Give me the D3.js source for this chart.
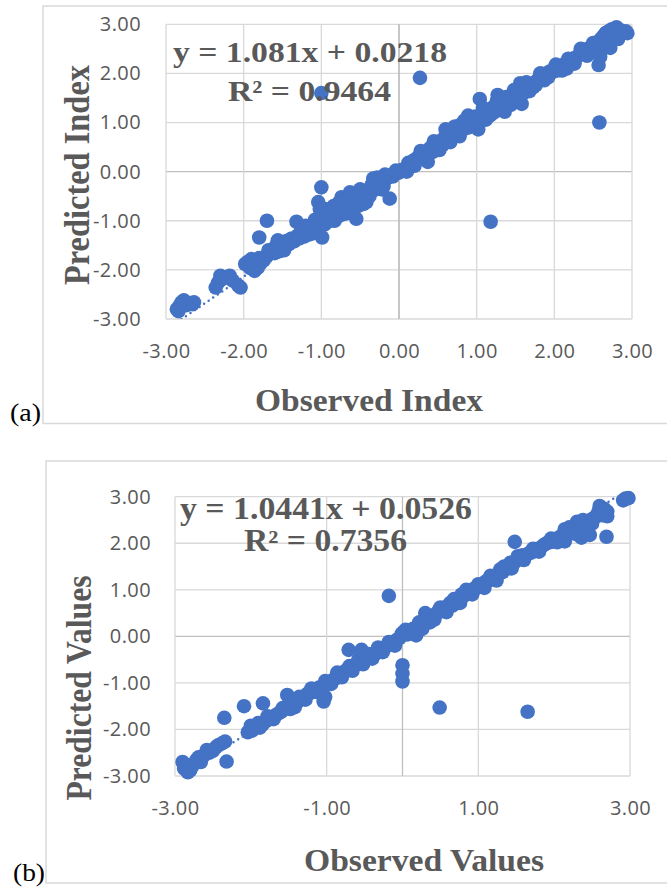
<!DOCTYPE html>
<html>
<head>
<meta charset="utf-8">
<script src="https://cdn.jsdelivr.net/npm/d3@7"></script>
<style>
  body { margin: 0; background: #fff; }
  svg { display: block; }
  .tick text { font-family: 'Open Sans', sans-serif; font-size: 20px; fill: #595959; letter-spacing: 0.4px; }
  .serif { font-family: 'Liberation Serif', 'Times New Roman', serif; }
</style>
</head>
<body>
<svg id="chart" width="667" height="888"></svg>
<script>
// (observed, predicted) pairs
const pointsA = [
  [-2.86, -2.80], [-2.83, -2.74], [-2.80, -2.66], [-2.77, -2.62], [-2.74, -2.72], [-2.70, -2.68],
  [-2.66, -2.70], [-2.64, -2.66], [-2.84, -2.84],
  [-2.36, -2.36], [-2.33, -2.26], [-2.30, -2.12], [-2.27, -2.18], [-2.22, -2.15], [-2.18, -2.12],
  [-2.14, -2.22], [-2.07, -2.32], [-2.04, -2.36],
  [-1.98, -1.88], [-1.95, -1.84], [-1.92, -1.96], [-1.88, -1.86], [-1.86, -2.02], [-1.84, -1.90],
  [-1.80, -1.76], [-1.78, -1.86], [-1.74, -1.80], [-1.70, -1.72], [-1.66, -1.64], [-1.62, -1.58],
  [-1.60, -1.66], [-1.56, -1.40], [-1.54, -1.62], [-1.50, -1.52], [-1.46, -1.42], [-1.42, -1.48],
  [-1.38, -1.36], [-1.35, -1.42], [-1.32, -1.02], [-1.30, -1.30], [-1.27, -1.24], [-1.24, -1.16],
  [-1.22, -1.32], [-1.18, -1.20], [-1.14, -1.12], [-1.12, -1.26], [-1.08, -0.98], [-1.06, -1.10],
  [-1.04, -0.62], [-1.02, -0.76], [-1.00, -1.00], [-0.99, -1.34], [-0.98, -0.86], [-0.96, -1.08],
  [-0.93, -0.88], [-0.90, -0.96], [-0.86, -0.82], [-0.83, -1.00], [-0.80, -0.78], [-0.77, -0.90],
  [-0.74, -0.52], [-0.72, -0.70], [-0.68, -0.74], [-0.66, -0.84], [-0.63, -0.42], [-0.60, -0.62],
  [-0.57, -0.56], [-0.55, -0.96], [-0.53, -0.70], [-0.50, -0.36], [-0.48, -0.58], [-0.45, -0.46],
  [-0.42, -0.62], [-0.40, -0.40], [-0.36, -0.30], [-0.33, -0.14], [-0.30, -0.36], [-0.27, -0.26],
  [-0.24, -0.18], [-0.20, -0.30], [-0.16, -0.14], [-0.12, -0.08], [-0.12, -0.55], [-0.08, -0.10],
  [-0.04, 0.02], [0.00, -0.02], [0.04, 0.04], [0.08, 0.06], [0.12, 0.18], [0.15, 0.10],
  [0.18, 0.22], [0.22, 0.26], [0.26, 0.32], [0.30, 0.28], [0.33, 0.40], [0.37, 0.20],
  [0.40, 0.48], [0.43, 0.40], [0.46, 0.52], [0.50, 0.56], [0.53, 0.62], [0.56, 0.54],
  [0.60, 0.86], [0.62, 0.66], [0.65, 0.74], [0.68, 0.70], [0.70, 0.82], [0.74, 0.78],
  [0.77, 0.90], [0.80, 0.96], [0.83, 0.86], [0.86, 1.00], [0.89, 1.14], [0.92, 1.02],
  [0.95, 1.08], [0.98, 1.12], [1.02, 0.86], [1.04, 1.48], [1.06, 1.16], [1.10, 1.22],
  [1.14, 1.18], [1.17, 1.14], [1.20, 1.30], [1.24, 1.34], [1.27, 1.56], [1.30, 1.26],
  [1.33, 1.40], [1.36, 1.22], [1.40, 1.44], [1.42, 1.50], [1.46, 1.52], [1.50, 1.58],
  [1.54, 1.64], [1.56, 1.80], [1.58, 1.38], [1.62, 1.70], [1.66, 1.74], [1.70, 1.76],
  [1.73, 1.72], [1.77, 1.84], [1.80, 1.90], [1.84, 1.94], [1.87, 1.86], [1.90, 1.98],
  [1.94, 2.04], [1.97, 2.02], [2.00, 2.10], [2.04, 2.06], [2.08, 2.14], [2.12, 2.18],
  [2.16, 2.10], [2.20, 2.26], [2.24, 2.24], [2.28, 2.32], [2.32, 2.38], [2.36, 2.44],
  [2.40, 2.42], [2.44, 2.50], [2.48, 2.54], [2.52, 2.56], [2.56, 2.62], [2.57, 2.17],
  [2.59, 2.34], [2.60, 2.70], [2.63, 2.76], [2.66, 2.82], [2.68, 2.64], [2.70, 2.86],
  [2.72, 2.52], [2.74, 2.90], [2.77, 2.80], [2.80, 2.94], [2.82, 2.70], [2.85, 2.88],
  [2.88, 2.84], [2.92, 2.86], [2.94, 2.82],
  [-1.90, -1.78], [-1.82, -1.96], [-1.68, -1.60], [-1.58, -1.50], [-1.48, -1.60], [-1.40, -1.38],
  [-1.28, -1.36], [-1.20, -1.10], [-1.16, -1.28], [-1.10, -1.14], [-0.95, -0.76], [-0.88, -1.00],
  [-0.84, -0.70], [-0.78, -0.64], [-0.70, -0.86], [-0.64, -0.60], [-0.58, -0.72], [-0.52, -0.48],
  [-0.46, -0.66], [-0.38, -0.50], [-0.34, -0.24], [-0.28, -0.12], [-0.22, -0.36], [-0.18, -0.06],
  [0.10, 0.00], [0.20, 0.12], [0.28, 0.42], [0.35, 0.30], [0.45, 0.62], [0.52, 0.44],
  [0.58, 0.68], [0.66, 0.60], [0.72, 0.92], [0.78, 0.72], [0.84, 1.04], [0.90, 0.90],
  [1.00, 1.00], [1.08, 1.30], [1.12, 1.06], [1.22, 1.20], [1.26, 1.44], [1.34, 1.28],
  [1.38, 1.52], [1.44, 1.36], [1.48, 1.66], [1.52, 1.46], [1.60, 1.60], [1.64, 1.82],
  [1.68, 1.64], [1.76, 1.76], [1.82, 2.00], [1.92, 1.92], [2.02, 2.18], [2.10, 2.06],
  [2.18, 2.30], [2.26, 2.20], [2.34, 2.50], [2.42, 2.36], [2.50, 2.62], [2.54, 2.48],
  [2.62, 2.60],
  [-1.00, 1.60], [0.27, 1.91], [1.18, -1.02], [2.58, 1.00], [-1.00, -0.32], [-1.70, -1.00],
  [-1.80, -1.34]
];

// (observed, predicted) pairs
const pointsB = [
  [-2.90, -2.70], [-2.88, -2.84], [-2.86, -2.76], [-2.83, -2.92], [-2.80, -2.88], [-2.78, -2.80],
  [-2.75, -2.74], [-2.72, -2.66], [-2.69, -2.60], [-2.66, -2.70], [-2.62, -2.56], [-2.58, -2.44],
  [-2.55, -2.50], [-2.50, -2.46], [-2.46, -2.38], [-2.43, -2.34], [-2.38, -2.30], [-2.34, -2.26],
  [-2.32, -2.69],
  [-2.04, -2.06], [-2.00, -1.92], [-1.96, -1.98], [-1.90, -1.86], [-1.85, -1.90], [-1.80, -1.82],
  [-1.76, -1.78], [-1.72, -1.74], [-1.68, -1.70], [-1.64, -1.66], [-1.60, -1.62], [-1.56, -1.56],
  [-1.52, -1.26], [-1.50, -1.50], [-1.46, -1.48], [-1.42, -1.52], [-1.38, -1.40], [-1.33, -1.34],
  [-1.30, -1.30], [-1.26, -1.24], [-1.22, -1.22], [-1.18, -1.16], [-1.14, -1.14], [-1.10, -1.10],
  [-1.06, -1.08], [-1.04, -1.40], [-1.02, -1.30], [-1.00, -1.02], [-0.96, -0.98], [-0.92, -0.94],
  [-0.88, -0.90], [-0.85, -0.84], [-0.82, -0.84], [-0.78, -0.78], [-0.75, -0.74], [-0.72, -0.70],
  [-0.68, -0.66], [-0.64, -0.62], [-0.60, -0.60], [-0.57, -0.56], [-0.53, -0.52], [-0.50, -0.50],
  [-0.46, -0.44], [-0.42, -0.42], [-0.38, -0.38], [-0.34, -0.36], [-0.30, -0.30], [-0.27, -0.28],
  [-0.24, -0.26], [-0.20, -0.20], [-0.16, -0.16], [-0.12, -0.14], [-0.08, -0.08], [-0.04, -0.04],
  [-0.01, 0.06], [0.02, 0.10], [0.06, 0.04], [0.10, 0.12], [0.14, 0.16], [0.18, 0.02],
  [0.20, 0.22], [0.24, 0.28], [0.28, 0.32], [0.30, 0.50], [0.33, 0.36], [0.36, 0.30],
  [0.40, 0.44], [0.44, 0.48], [0.48, 0.56], [0.52, 0.54], [0.56, 0.60], [0.60, 0.66],
  [0.63, 0.72], [0.66, 0.66], [0.70, 0.74], [0.74, 0.80], [0.78, 0.90], [0.82, 0.88],
  [0.86, 0.94], [0.90, 0.98], [0.94, 1.02], [0.98, 1.04], [1.02, 1.08], [1.06, 1.12],
  [1.10, 1.18], [1.14, 1.20], [1.18, 1.26], [1.22, 1.28], [1.26, 1.34], [1.29, 1.44],
  [1.32, 1.38], [1.36, 1.46], [1.40, 1.50], [1.42, 1.58], [1.46, 1.56], [1.50, 1.62],
  [1.54, 1.68], [1.58, 1.74], [1.62, 1.72], [1.66, 1.78], [1.70, 1.80], [1.74, 1.84],
  [1.78, 1.88], [1.82, 1.90], [1.86, 1.96], [1.90, 2.00], [1.94, 2.02], [1.98, 2.04],
  [2.02, 2.08], [2.06, 2.12], [2.10, 2.16], [2.14, 2.30], [2.14, 2.04], [2.18, 2.26],
  [2.22, 2.22], [2.26, 2.26], [2.30, 2.46], [2.34, 2.40], [2.36, 2.12], [2.40, 2.36],
  [2.44, 2.30], [2.47, 2.18], [2.48, 2.50], [2.52, 2.54], [2.56, 2.58], [2.60, 2.72],
  [2.60, 2.80], [2.64, 2.60], [2.66, 2.74], [2.68, 2.64], [2.70, 2.68], [2.70, 2.58],
  [2.91, 2.92], [2.94, 2.96], [2.98, 2.97],
  [-1.98, -2.02], [-1.88, -1.96], [-1.78, -1.72], [-1.70, -1.78], [-1.58, -1.54], [-1.48, -1.56],
  [-1.36, -1.30], [-1.28, -1.36], [-1.20, -1.12], [-1.12, -1.20], [-1.02, -0.96], [-0.94, -1.02],
  [-0.86, -0.78], [-0.80, -0.88], [-0.70, -0.64], [-0.66, -0.74], [-0.58, -0.50], [-0.52, -0.60],
  [-0.44, -0.38], [-0.40, -0.48], [-0.32, -0.24], [-0.26, -0.34], [-0.18, -0.12], [-0.10, -0.20],
  [0.04, 0.14], [0.12, 0.06], [0.22, 0.30], [0.26, 0.16], [0.34, 0.42], [0.42, 0.36],
  [0.50, 0.62], [0.58, 0.52], [0.68, 0.80], [0.76, 0.72], [0.84, 1.00], [0.92, 0.90],
  [1.00, 1.12], [1.08, 1.04], [1.16, 1.30], [1.24, 1.20], [1.34, 1.50], [1.44, 1.46],
  [1.52, 1.72], [1.60, 1.64], [1.72, 1.88], [1.80, 1.82], [1.96, 2.10], [2.04, 2.02],
  [2.20, 2.34], [2.28, 2.20], [2.38, 2.50], [2.50, 2.42], [2.58, 2.66],
  [-2.35, -1.75], [-2.09, -1.50], [-1.84, -1.44], [-0.18, 0.87], [0.49, -1.53], [1.65, -1.62],
  [0.00, -0.62], [0.00, -0.80], [0.00, -0.97], [-0.71, -0.29], [-0.54, -0.29], [1.48, 2.03],
  [2.69, 2.14]
];

// linear trendline coefficients [slope, intercept] and labels
const trendA = [1.081, 0.0218];
const trendB = [1.0441, 0.0526];
const labelsA = ['y = 1.081x + 0.0218', 'R² = 0.9464'];
const labelsB = ['y = 1.0441x + 0.0526', 'R² = 0.7356'];

const yTickValues = [-3, -2, -1, 0, 1, 2, 3];
const xTickValuesA = [-3, -2, -1, 0, 1, 2, 3];
const xTickValuesB = [-3, -1, 1, 3];

const svg = d3.select('#chart');
svg.append('rect').attr('width', 667).attr('height', 888).attr('fill', '#fff');

const BLUE = '#4472C4';
const GRID = '#d9d9d9';
const AXIS0 = '#bfbfbf';
const TEXT = '#595959';

function drawPanel(id, points, trend, labels, xTicks, lay) {
  const g = svg.append('g');
  const x = d3.scaleLinear().domain([-3, 3]).range([lay.left, lay.right]);
  const y = d3.scaleLinear().domain([-3, 3]).range([lay.bottom, lay.top]);

  svg.append('clipPath').attr('id', 'clip-' + id)
    .append('rect')
    .attr('x', lay.left).attr('y', lay.top)
    .attr('width', lay.right - lay.left).attr('height', lay.bottom - lay.top);

  // outer chart frame (right side runs off the page)
  g.append('rect')
    .attr('x', lay.frame[0]).attr('y', lay.frame[1])
    .attr('width', 700).attr('height', lay.frame[2] - lay.frame[1])
    .attr('fill', 'none').attr('stroke', GRID).attr('stroke-width', 1.5);

  // gridlines
  g.append('g').selectAll('line').data(yTickValues).join('line')
    .attr('x1', lay.left).attr('x2', lay.right)
    .attr('y1', d => y(d)).attr('y2', d => y(d))
    .attr('stroke', d => d === 0 ? AXIS0 : GRID).attr('stroke-width', 1.3);
  g.append('g').selectAll('line').data(xTicks.concat([0])).join('line')
    .attr('x1', d => x(d)).attr('x2', d => x(d))
    .attr('y1', lay.top).attr('y2', lay.bottom)
    .attr('stroke', d => d === 0 ? AXIS0 : GRID).attr('stroke-width', 1.3);

  // axes (labels only)
  const fmt = d => d.toFixed(2);
  g.append('g').attr('transform', `translate(0,${lay.bottom})`)
    .call(d3.axisBottom(x).tickValues(xTicks).tickFormat(fmt).tickSize(0).tickPadding(25))
    .call(a => a.select('.domain').remove());
  g.append('g').attr('transform', `translate(${lay.left},0)`)
    .call(d3.axisLeft(y).tickValues(yTickValues).tickFormat(fmt).tickSize(0).tickPadding(lay.yPad))
    .call(a => a.select('.domain').remove());
  g.selectAll('.tick text').attr('fill', TEXT);

  // markers
  g.append('g').selectAll('circle').data(points).join('circle')
    .attr('cx', d => x(d[0])).attr('cy', d => y(d[1]))
    .attr('r', 7.3).attr('fill', BLUE);

  // dotted trendline across the observed range, clipped to the plot area
  const ext = d3.extent(points, d => d[0]);
  g.append('line')
    .attr('clip-path', `url(#clip-${id})`)
    .attr('x1', x(ext[0])).attr('y1', y(trend[0] * ext[0] + trend[1]))
    .attr('x2', x(ext[1])).attr('y2', y(trend[0] * ext[1] + trend[1]))
    .attr('stroke', BLUE).attr('stroke-width', 2.5)
    .attr('stroke-linecap', 'round').attr('stroke-dasharray', '0 5.5');

  // equation and R²
  lay.eq.forEach((p, i) => {
    g.append('text').attr('class', 'serif')
      .attr('x', p[0]).attr('y', p[1])
      .attr('font-size', p[3]).attr('font-weight', 'bold').attr('fill', TEXT)
      .attr('textLength', p[2]).attr('lengthAdjust', 'spacingAndGlyphs')
      .text(labels[i]);
  });

  // axis titles
  g.append('text').attr('class', 'serif')
    .attr('x', lay.xTitle[0]).attr('y', lay.xTitle[1])
    .attr('text-anchor', 'middle').attr('font-size', 32).attr('font-weight', 'bold').attr('fill', TEXT)
    .attr('textLength', lay.xTitle[2]).attr('lengthAdjust', 'spacingAndGlyphs')
    .text(lay.xName);
  g.append('text').attr('class', 'serif')
    .attr('transform', `translate(${lay.yTitle[0]},${lay.yTitle[1]}) scale(1.12,1) rotate(-90)`)
    .attr('text-anchor', 'middle').attr('font-size', 32).attr('font-weight', 'bold').attr('fill', TEXT)
    .attr('textLength', lay.yTitle[2]).attr('lengthAdjust', 'spacingAndGlyphs')
    .text(lay.yName);

  // panel tag
  g.append('text').attr('class', 'serif')
    .attr('x', lay.tag[0]).attr('y', lay.tag[1])
    .attr('font-size', 25).attr('fill', '#000')
    .attr('textLength', lay.tag[2]).attr('lengthAdjust', 'spacingAndGlyphs')
    .text(lay.tagText);
}

drawPanel('a', pointsA, trendA, labelsA, xTickValuesA, {
  left: 166, right: 632, top: 24.3, bottom: 319, yPad: 25,
  frame: [43, 6, 423.5],
  eq: [[173, 62, 274, 30], [228, 100.5, 163, 30]],
  xTitle: [369, 411, 228], xName: 'Observed Index',
  yTitle: [89, 175, 220], yName: 'Predicted Index',
  tag: [10, 421, 31], tagText: '(a)'
});

drawPanel('b', pointsB, trendB, labelsB, xTickValuesB, {
  left: 175, right: 630, top: 496.7, bottom: 776, yPad: 24,
  frame: [46, 461, 883],
  eq: [[180, 518.5, 292, 31], [244, 550.5, 163, 31]],
  xTitle: [424, 871, 240], xName: 'Observed Values',
  yTitle: [91, 688, 225], yName: 'Predicted Values',
  tag: [13, 881, 32], tagText: '(b)'
});
</script>
</body>
</html>
